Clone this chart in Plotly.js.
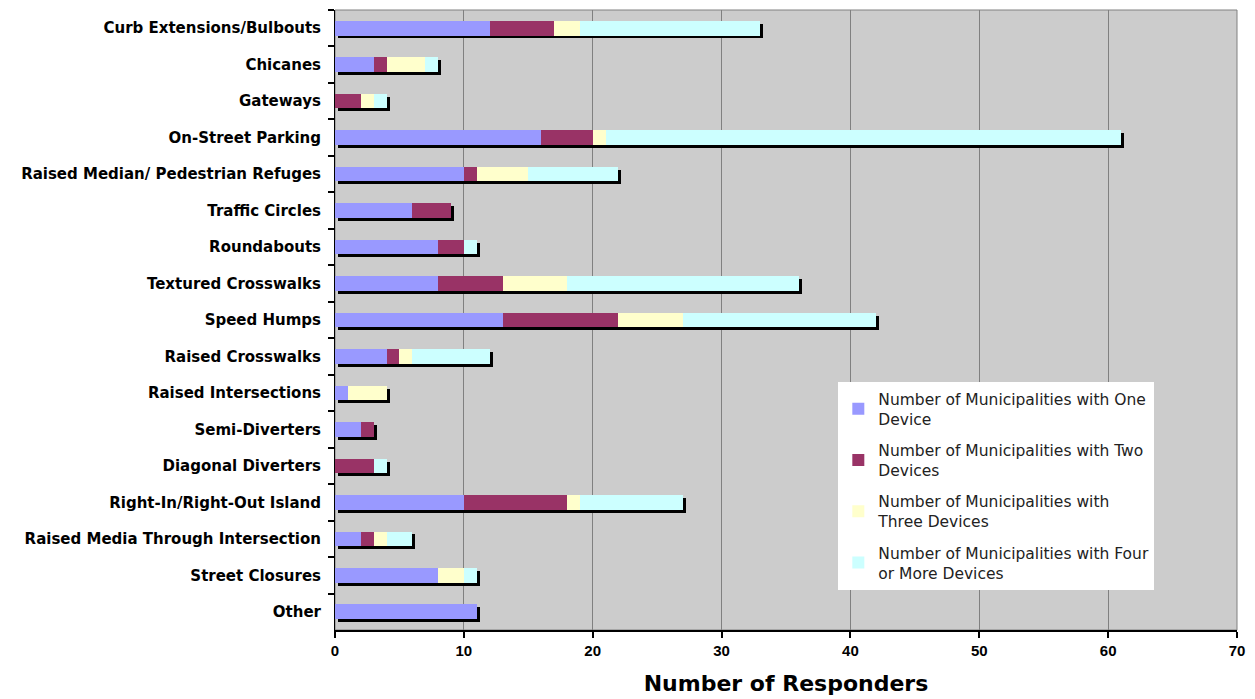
<!DOCTYPE html>
<html>
<head>
<meta charset="utf-8">
<script src="https://cdn.plot.ly/plotly-3.0.1.min.js"></script>
<style>html,body{margin:0;padding:0;background:#fff;}#chart{width:1255px;height:699px;}</style>
</head>
<body>
<div id="chart"></div>
<script>
const categories = [
  "Curb Extensions/Bulbouts", "Chicanes", "Gateways", "On-Street Parking",
  "Raised Median/ Pedestrian Refuges", "Traffic Circles", "Roundabouts",
  "Textured Crosswalks", "Speed Humps", "Raised Crosswalks", "Raised Intersections",
  "Semi-Diverters", "Diagonal Diverters", "Right-In/Right-Out Island",
  "Raised Media Through Intersection", "Street Closures", "Other"
];
const oneDevice   = [12, 3, 0, 16, 10, 6, 8, 8, 13, 4, 1, 2, 0, 10, 2, 8, 11];
const twoDevices  = [5, 1, 2, 4, 1, 3, 2, 5, 9, 1, 0, 1, 3, 8, 1, 0, 0];
const threeDevices= [2, 3, 1, 1, 4, 0, 0, 5, 5, 1, 3, 0, 0, 1, 1, 2, 0];
const fourPlus    = [14, 1, 1, 40, 7, 0, 1, 18, 15, 6, 0, 0, 1, 8, 2, 1, 0];
const seriesNames = [
  "Number of Municipalities with One<br>Device",
  "Number of Municipalities with Two<br>Devices",
  "Number of Municipalities with<br>Three Devices",
  "Number of Municipalities with Four<br>or More Devices"
];
const seriesColors = ["#9999FF", "#993366", "#FFFFCC", "#CCFFFF"];
const xTicks = [0, 10, 20, 30, 40, 50, 60, 70];

const totals = categories.map((c, i) => oneDevice[i] + twoDevices[i] + threeDevices[i] + fourPlus[i]);
const n = categories.length;
const barW = 0.4;

const traces = [];
// drop shadow behind each stacked bar
traces.push({
  type: "bar", orientation: "h", y: categories, x: totals,
  xaxis: "x", yaxis: "y", width: barW,
  marker: {color: "#000000", line: {width: 0}},
  showlegend: false, hoverinfo: "skip"
});
[oneDevice, twoDevices, threeDevices, fourPlus].forEach((vals, k) => {
  traces.push({
    type: "bar", orientation: "h", y: categories, x: vals,
    xaxis: "x2", yaxis: "y2", width: barW, name: seriesNames[k],
    legendgroup: "g" + k,
    marker: {color: seriesColors[k], line: {width: 0}}
  });
});

const fontFam = "Liberation Sans, Arial, sans-serif";
const wideFam = "DejaVu Sans, Liberation Sans, sans-serif";
const dx = 0.23, dy = 0.08;
const layout = {
  width: 1255, height: 699,
  margin: {l: 335, r: 18, t: 10, b: 69},
  paper_bgcolor: "#ffffff",
  plot_bgcolor: "#cccccc",
  barmode: "stack",
  showlegend: true,
  legend: {
    x: 0.558, y: 0.40, xanchor: "left", yanchor: "top",
    bgcolor: "#ffffff", borderwidth: 0,
    font: {family: wideFam, size: 15.5, color: "#222222"},
    traceorder: "grouped", tracegroupgap: 8, itemwidth: 30
  },
  xaxis: {
    range: [-dx, 70 - dx], visible: false, fixedrange: true
  },
  yaxis: {
    type: "category", range: [n - 0.5 - dy, -0.5 - dy], visible: false
  },
  xaxis2: {
    overlaying: "x", anchor: "y2", side: "bottom",
    range: [0, 70], tickvals: xTicks, ticktext: xTicks.map(String),
    showgrid: true, gridcolor: "#808080", gridwidth: 1,
    zeroline: false,
    showline: true, linecolor: "#000000", linewidth: 2,
    ticks: "outside", ticklen: 6, tickwidth: 2, tickcolor: "#000000",
    tickfont: {family: fontFam, size: 15, color: "#000000", weight: "bold"},
    title: {text: "<b>Number of Responders</b>", font: {family: wideFam, size: 22, color: "#000000"}, standoff: 18}
  },
  yaxis2: {
    overlaying: "y", anchor: "x2", type: "category",
    range: [n - 0.5, -0.5],
    tickson: "boundaries",
    showgrid: false, zeroline: false,
    showline: true, linecolor: "#000000", linewidth: 1,
    ticks: "outside", ticklen: 6, tickwidth: 1.5, tickcolor: "#000000",
    tickfont: {family: wideFam, size: 15, color: "#000000", weight: "bold"},
    ticklabelstandoff: 10
  },
  shapes: [{
    type: "rect", xref: "paper", yref: "paper", x0: 0, x1: 1, y0: 0, y1: 1,
    line: {color: "#808080", width: 1}, layer: "below"
  }]
};

Plotly.newPlot("chart", traces, layout, {displayModeBar: false, responsive: false});
</script>
</body>
</html>
